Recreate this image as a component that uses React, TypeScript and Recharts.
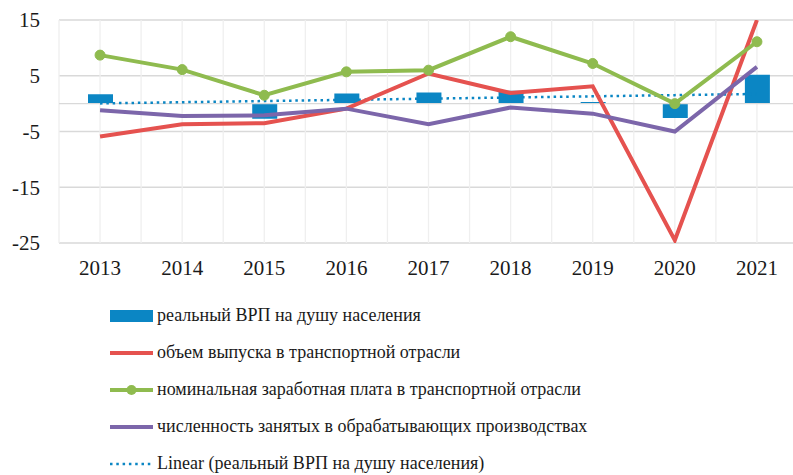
import { Bar, CartesianGrid, ComposedChart, Legend, Line, ReferenceLine, XAxis, YAxis } from 'recharts'

// years on the category axis
const years = ['2013', '2014', '2015', '2016', '2017', '2018', '2019', '2020', '2021']

// growth rates, %
const grpPerCapita = [1.7, 0, -2.7, 1.8, 2.0, 2.3, 0.3, -2.6, 5.2]
const transportOutput = [-5.9, -3.7, -3.5, -0.9, 5.4, 1.9, 3.1, -24.5, 15]
const transportWage = [8.7, 6.1, 1.5, 5.7, 6.0, 12.0, 7.2, 0.0, 11.1]
const manufEmployment = [-1.2, -2.2, -2.1, -0.9, -3.7, -0.7, -1.8, -5.0, 6.6]

const yTicks = [15, 5, -5, -15, -25]

const BLUE = '#0b86c4'
const RED = '#e5524f'
const GREEN = '#8fbb4f'
const PURPLE = '#7c66aa'
const FONT = "'Liberation Serif', 'Times New Roman', serif"

// linear trend (least squares) of the bar series, like Excel's "Linear" trendline
const trend = (() => {
    const n = grpPerCapita.length
    const xm = (n - 1) / 2
    const ym = grpPerCapita.reduce((s, v) => s + v, 0) / n
    let num = 0
    let den = 0
    grpPerCapita.forEach((v, i) => {
        num += (i - xm) * (v - ym)
        den += (i - xm) * (i - xm)
    })
    const k = num / den
    return grpPerCapita.map((_, i) => ym + k * (i - xm))
})()

const data = years.map((year, i) => ({
    year,
    grp: grpPerCapita[i],
    output: transportOutput[i],
    wage: transportWage[i],
    employed: manufEmployment[i],
    trend: trend[i],
}))

const legendItems = [
    { key: 'grp', label: 'реальный ВРП на душу населения' },
    { key: 'output', label: 'объем выпуска в транспортной отрасли' },
    { key: 'wage', label: 'номинальная заработная плата в транспортной отрасли' },
    { key: 'employed', label: 'численность занятых в обрабатывающих производствах' },
    { key: 'trend', label: 'Linear (реальный ВРП на душу населения)' },
]

const LegendIcon = ({ kind }: { kind: string }) => {
    if (kind === 'grp') {
        return (
            <svg width={43} height={14}>
                <rect x={0} y={1} width={43} height={12} fill={BLUE} />
            </svg>
        )
    }
    if (kind === 'trend') {
        return (
            <svg width={43} height={14}>
                <line x1={0} y1={7} x2={43} y2={7} stroke={BLUE} strokeWidth={2.5} strokeDasharray="2.5 3.8" />
            </svg>
        )
    }
    const color = kind === 'output' ? RED : kind === 'wage' ? GREEN : PURPLE
    return (
        <svg width={43} height={14}>
            <line x1={0} y1={7} x2={43} y2={7} stroke={color} strokeWidth={4} strokeLinecap="round" />
            {kind === 'wage' && <circle cx={21.5} cy={7} r={5} fill={GREEN} />}
        </svg>
    )
}

const renderLegend = () => (
    <div style={{ fontFamily: FONT, fontSize: 18, color: '#1a1a1a' }}>
        {legendItems.map((item) => (
            <div key={item.key} style={{ display: 'flex', alignItems: 'center', height: 37, whiteSpace: 'nowrap' }}>
                <LegendIcon kind={item.key} />
                <span style={{ marginLeft: 4 }}>{item.label}</span>
            </div>
        ))}
    </div>
)

// grid lines at each category centre and at each category boundary
const verticalLines = ({ offset }: any) => {
    const n = years.length
    const out: number[] = []
    for (let k = 0; k <= n * 2; k++) out.push(offset.left + (offset.width * k) / (n * 2))
    return out
}

export default function App() {
    return (
        <div style={{ position: 'absolute', left: 0, top: 0, width: 793, height: 475, overflow: 'hidden', background: '#fff' }}>
            <ComposedChart
                width={800}
                height={475}
                data={data}
                margin={{ top: 20, right: 2, left: 0, bottom: 192 }}
            >
                <CartesianGrid vertical={false} stroke="#d9d9d9" strokeWidth={1.3} />
                <CartesianGrid horizontal={false} stroke="#efefef" strokeWidth={1.3} verticalCoordinatesGenerator={verticalLines} />
                <XAxis
                    dataKey="year"
                    axisLine={false}
                    tickLine={false}
                    height={40}
                    tickMargin={11}
                    interval={0}
                    tick={{ fontSize: 21, fill: '#1a1a1a', fontFamily: FONT }}
                />
                <YAxis
                    width={59}
                    domain={[-25, 15]}
                    ticks={yTicks}
                    allowDataOverflow
                    axisLine={false}
                    tickLine={false}
                    tickMargin={13}
                    tick={{ fontSize: 21, fill: '#1a1a1a', fontFamily: FONT }}
                />
                <ReferenceLine y={0} stroke="#d9d9d9" strokeWidth={1.3} />
                <Line
                    dataKey="trend"
                    stroke={BLUE}
                    strokeWidth={2.5}
                    strokeDasharray="2.5 3.8"
                    dot={false}
                    isAnimationActive={false}
                />
                <Bar dataKey="grp" fill={BLUE} barSize={25} isAnimationActive={false} />
                <Line dataKey="output" stroke={RED} strokeWidth={4} dot={false} isAnimationActive={false} />
                <Line
                    dataKey="wage"
                    stroke={GREEN}
                    strokeWidth={4}
                    dot={{ r: 5, fill: GREEN, stroke: GREEN, strokeWidth: 1 }}
                    isAnimationActive={false}
                />
                <Line dataKey="employed" stroke={PURPLE} strokeWidth={4} dot={false} isAnimationActive={false} />
                <Legend
                    layout="vertical"
                    align="center"
                    verticalAlign="middle"
                    wrapperStyle={{ position: 'absolute', left: 110, top: 297, width: 'auto', height: 'auto' }}
                    content={renderLegend}
                />
            </ComposedChart>
        </div>
    )
}
